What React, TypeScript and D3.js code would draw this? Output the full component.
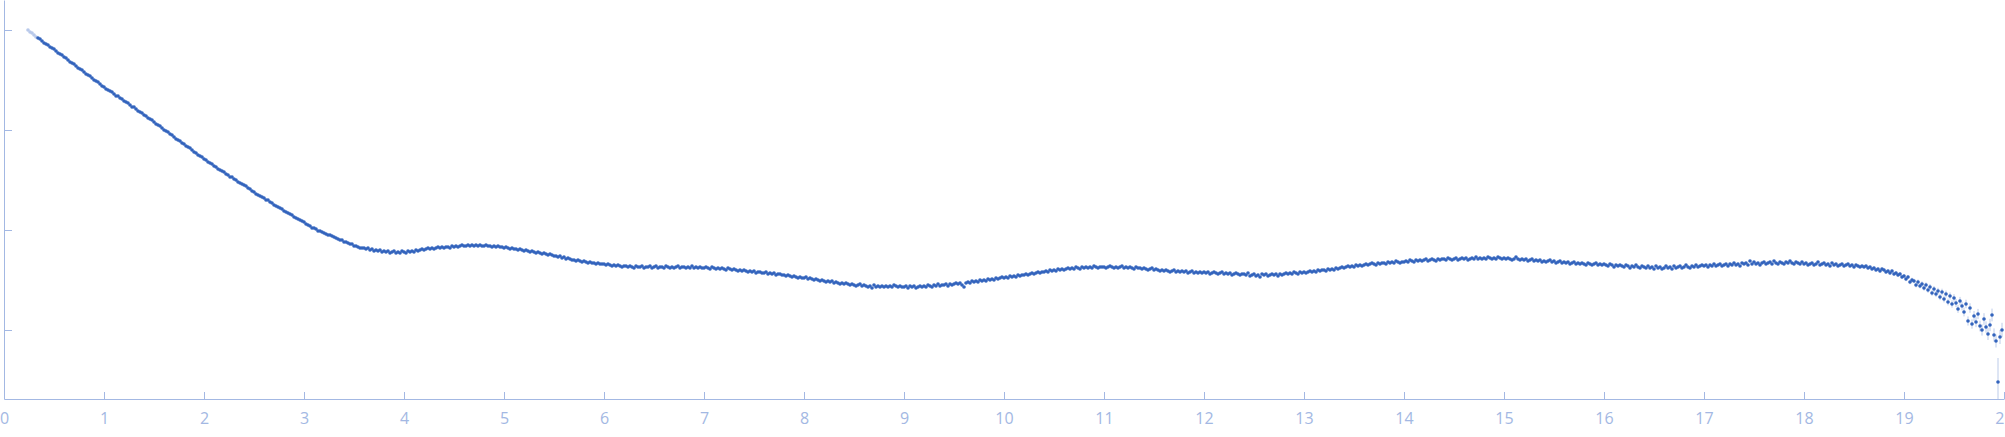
import React, { useRef, useEffect } from 'react';
import * as d3 from 'd3';

// log10 intensity, one value every 0.02 in q
const Q_STEP = 0.02;
const EXCLUDED = 5; // first points drawn pale (not used in the fit)

const seg00 = [0.0, -0.02, -0.03, -0.05, -0.07, -0.08, -0.09, -0.11, -0.13, -0.14, -0.15, -0.17, -0.18, -0.19, -0.21, -0.23, -0.24, -0.25, -0.27, -0.28, -0.3, -0.32, -0.33, -0.34, -0.36, -0.38, -0.39, -0.4, -0.42, -0.44, -0.45, -0.46, -0.48, -0.5, -0.51, -0.52, -0.54, -0.56];
const seg01 = [-0.57, -0.59, -0.6, -0.61, -0.62, -0.64, -0.66, -0.66, -0.68, -0.69, -0.71, -0.72, -0.73, -0.75, -0.77, -0.77, -0.79, -0.81, -0.82, -0.83, -0.85, -0.86, -0.88, -0.89, -0.9, -0.92, -0.94, -0.95, -0.96, -0.98, -1.0, -1.01, -1.02, -1.04, -1.05, -1.07, -1.09, -1.1, -1.11, -1.13, -1.14, -1.16, -1.17, -1.18, -1.2, -1.22, -1.23, -1.25, -1.26, -1.27];
const seg02 = [-1.29, -1.3, -1.32, -1.33, -1.34, -1.36, -1.37, -1.39, -1.4, -1.41, -1.42, -1.44, -1.45, -1.47, -1.47, -1.49, -1.5, -1.52, -1.53, -1.54, -1.55, -1.56, -1.58, -1.59, -1.61, -1.62, -1.64, -1.65, -1.66, -1.67, -1.68, -1.7, -1.7, -1.72, -1.73, -1.75, -1.76, -1.77, -1.78, -1.79, -1.81, -1.82, -1.83, -1.84, -1.85, -1.87, -1.88, -1.89, -1.9, -1.91];
const seg03 = [-1.92, -1.94, -1.95, -1.96, -1.98, -1.98, -1.99, -2.01, -2.01, -2.02, -2.03, -2.04, -2.05, -2.05, -2.06, -2.07, -2.08, -2.09, -2.1, -2.1, -2.12, -2.12, -2.13, -2.14, -2.14, -2.16, -2.16, -2.17, -2.18, -2.18, -2.18, -2.19, -2.18, -2.2, -2.19, -2.21, -2.2, -2.21, -2.2, -2.22, -2.21, -2.22, -2.21, -2.23, -2.22, -2.21, -2.23, -2.22, -2.23, -2.21];
const seg04 = [-2.22, -2.23, -2.21, -2.22, -2.21, -2.22, -2.2, -2.21, -2.2, -2.19, -2.2, -2.19, -2.18, -2.19, -2.18, -2.19, -2.18, -2.17, -2.18, -2.17, -2.18, -2.17, -2.17, -2.18, -2.16, -2.17, -2.16, -2.17, -2.16, -2.15, -2.16, -2.16, -2.15, -2.16, -2.15, -2.16, -2.15, -2.16, -2.15, -2.16, -2.16, -2.15, -2.16, -2.16, -2.17, -2.16, -2.17, -2.16, -2.17, -2.17];
const seg05 = [-2.18, -2.17, -2.18, -2.19, -2.18, -2.19, -2.19, -2.2, -2.19, -2.2, -2.21, -2.2, -2.21, -2.22, -2.21, -2.22, -2.23, -2.22, -2.23, -2.24, -2.23, -2.24, -2.25, -2.24, -2.25, -2.26, -2.26, -2.27, -2.26, -2.28, -2.27, -2.29, -2.28, -2.29, -2.3, -2.3, -2.31, -2.3, -2.31, -2.32, -2.31, -2.32, -2.33, -2.32, -2.33, -2.33, -2.34, -2.33, -2.34, -2.34];
const seg06 = [-2.34, -2.35, -2.34, -2.35, -2.36, -2.35, -2.36, -2.35, -2.36, -2.37, -2.36, -2.36, -2.37, -2.36, -2.37, -2.38, -2.36, -2.37, -2.37, -2.36, -2.38, -2.37, -2.37, -2.36, -2.38, -2.37, -2.36, -2.38, -2.37, -2.37, -2.38, -2.36, -2.37, -2.38, -2.37, -2.38, -2.37, -2.36, -2.38, -2.37, -2.37, -2.38, -2.37, -2.38, -2.36, -2.38, -2.37, -2.38, -2.37, -2.38];
const seg07 = [-2.38, -2.37, -2.38, -2.39, -2.37, -2.38, -2.39, -2.38, -2.39, -2.38, -2.39, -2.4, -2.38, -2.39, -2.4, -2.39, -2.4, -2.41, -2.4, -2.41, -2.4, -2.41, -2.42, -2.41, -2.42, -2.41, -2.43, -2.42, -2.42, -2.43, -2.43, -2.42, -2.44, -2.43, -2.44, -2.43, -2.45, -2.44, -2.44, -2.45, -2.45, -2.46, -2.45, -2.46, -2.47, -2.46, -2.47, -2.48, -2.47, -2.48];
const seg08 = [-2.48, -2.47, -2.49, -2.48, -2.49, -2.5, -2.49, -2.5, -2.51, -2.5, -2.51, -2.52, -2.51, -2.52, -2.51, -2.53, -2.52, -2.53, -2.54, -2.53, -2.54, -2.53, -2.54, -2.55, -2.54, -2.55, -2.56, -2.55, -2.54, -2.56, -2.55, -2.56, -2.57, -2.56, -2.58, -2.55, -2.57, -2.56, -2.57, -2.56, -2.57, -2.56, -2.57, -2.56, -2.57, -2.55, -2.56, -2.57, -2.56, -2.57];
const seg09 = [-2.57, -2.56, -2.58, -2.56, -2.57, -2.56, -2.58, -2.57, -2.56, -2.57, -2.56, -2.57, -2.55, -2.56, -2.57, -2.55, -2.56, -2.54, -2.56, -2.55, -2.55, -2.54, -2.56, -2.54, -2.55, -2.54, -2.53, -2.54, -2.53, -2.55, -2.57, -2.53, -2.52, -2.53, -2.51, -2.52, -2.51, -2.52, -2.5, -2.51, -2.5, -2.51, -2.49, -2.5, -2.49, -2.5, -2.48, -2.49, -2.48, -2.47];
const seg10 = [-2.48, -2.47, -2.48, -2.46, -2.47, -2.46, -2.47, -2.45, -2.46, -2.45, -2.45, -2.44, -2.45, -2.44, -2.43, -2.44, -2.43, -2.42, -2.43, -2.42, -2.42, -2.41, -2.42, -2.4, -2.41, -2.4, -2.41, -2.39, -2.4, -2.39, -2.4, -2.39, -2.38, -2.39, -2.38, -2.39, -2.37, -2.38, -2.39, -2.37, -2.38, -2.37, -2.38, -2.37, -2.38, -2.36, -2.37, -2.38, -2.37, -2.37];
const seg11 = [-2.37, -2.38, -2.37, -2.36, -2.37, -2.38, -2.37, -2.38, -2.37, -2.36, -2.38, -2.37, -2.38, -2.37, -2.38, -2.39, -2.37, -2.38, -2.38, -2.39, -2.38, -2.39, -2.4, -2.39, -2.38, -2.4, -2.39, -2.4, -2.41, -2.4, -2.41, -2.4, -2.41, -2.42, -2.41, -2.4, -2.42, -2.41, -2.42, -2.41, -2.42, -2.41, -2.43, -2.42, -2.41, -2.43, -2.42, -2.43, -2.42, -2.43];
const seg12 = [-2.42, -2.43, -2.42, -2.44, -2.43, -2.42, -2.43, -2.44, -2.43, -2.42, -2.44, -2.43, -2.44, -2.43, -2.45, -2.44, -2.43, -2.44, -2.45, -2.44, -2.44, -2.45, -2.43, -2.46, -2.45, -2.44, -2.46, -2.45, -2.47, -2.44, -2.45, -2.44, -2.46, -2.45, -2.44, -2.45, -2.44, -2.46, -2.44, -2.45, -2.44, -2.43, -2.44, -2.43, -2.44, -2.42, -2.43, -2.44, -2.42, -2.43];
const seg13 = [-2.42, -2.43, -2.42, -2.41, -2.42, -2.41, -2.42, -2.4, -2.41, -2.4, -2.4, -2.41, -2.39, -2.4, -2.39, -2.4, -2.38, -2.39, -2.38, -2.37, -2.38, -2.37, -2.36, -2.37, -2.36, -2.37, -2.35, -2.36, -2.35, -2.36, -2.35, -2.34, -2.35, -2.34, -2.33, -2.34, -2.35, -2.33, -2.34, -2.33, -2.33, -2.34, -2.32, -2.33, -2.32, -2.33, -2.31, -2.32, -2.33, -2.32];
const seg14 = [-2.32, -2.31, -2.32, -2.3, -2.31, -2.32, -2.3, -2.31, -2.3, -2.31, -2.3, -2.29, -2.31, -2.3, -2.29, -2.3, -2.31, -2.29, -2.3, -2.29, -2.29, -2.3, -2.28, -2.29, -2.3, -2.29, -2.28, -2.3, -2.29, -2.28, -2.29, -2.28, -2.3, -2.29, -2.28, -2.29, -2.27, -2.29, -2.28, -2.29, -2.28, -2.29, -2.27, -2.28, -2.29, -2.28, -2.29, -2.27, -2.28, -2.29];
const seg15 = [-2.28, -2.29, -2.28, -2.29, -2.3, -2.29, -2.27, -2.29, -2.3, -2.29, -2.3, -2.29, -2.31, -2.3, -2.29, -2.31, -2.3, -2.31, -2.3, -2.32, -2.31, -2.32, -2.31, -2.3, -2.32, -2.31, -2.33, -2.32, -2.31, -2.33, -2.32, -2.33, -2.32, -2.34, -2.33, -2.32, -2.34, -2.33, -2.34, -2.33, -2.34, -2.35, -2.33, -2.34, -2.35, -2.34, -2.33, -2.35, -2.34, -2.35];
const seg16 = [-2.34, -2.35, -2.36, -2.34, -2.35, -2.37, -2.35, -2.36, -2.35, -2.36, -2.37, -2.35, -2.36, -2.38, -2.36, -2.37, -2.35, -2.37, -2.38, -2.36, -2.37, -2.38, -2.36, -2.38, -2.37, -2.39, -2.36, -2.38, -2.37, -2.39, -2.38, -2.36, -2.38, -2.37, -2.39, -2.36, -2.38, -2.37, -2.36, -2.38, -2.37, -2.35, -2.37, -2.38, -2.36, -2.37, -2.35, -2.37, -2.36, -2.35];
const seg17 = [-2.36, -2.35, -2.37, -2.35, -2.36, -2.34, -2.36, -2.35, -2.34, -2.36, -2.35, -2.34, -2.36, -2.34, -2.35, -2.33, -2.35, -2.34, -2.36, -2.33, -2.34, -2.33, -2.35, -2.31, -2.34, -2.32, -2.34, -2.33, -2.35, -2.33, -2.32, -2.34, -2.33, -2.32, -2.34, -2.31, -2.33, -2.34, -2.32, -2.33, -2.34, -2.32, -2.33, -2.31, -2.33, -2.34, -2.32, -2.33, -2.34, -2.32];
const seg18 = [-2.34, -2.33, -2.35, -2.34, -2.33, -2.35, -2.34, -2.32, -2.35, -2.34, -2.33, -2.35, -2.34, -2.36, -2.33, -2.35, -2.34, -2.36, -2.35, -2.34, -2.36, -2.35, -2.34, -2.36, -2.35, -2.37, -2.35, -2.36, -2.37, -2.36, -2.37, -2.36, -2.38, -2.37, -2.39, -2.38, -2.4, -2.39, -2.41, -2.39, -2.4, -2.42, -2.41, -2.43, -2.41, -2.44, -2.43, -2.45, -2.44, -2.47];
const seg19 = [-2.46, -2.49, -2.47, -2.52, -2.5, -2.51, -2.55, -2.52, -2.56, -2.54, -2.58, -2.55, -2.6, -2.57, -2.63, -2.59, -2.64, -2.61, -2.67, -2.62, -2.69, -2.64, -2.72, -2.66, -2.74, -2.68, -2.73, -2.79, -2.71, -2.76, -2.82, -2.74, -2.91, -2.78, -2.94, -2.86, -2.92, -2.84, -2.96, -3.0, -2.89, -2.97, -3.04, -2.95, -2.85, -3.05, -3.11, -3.52, -3.07, -3.0];

// error bars (log units), only large enough to show at the high-q end
const err18 = [0.006, 0.006, 0.007, 0.006, 0.007, 0.007, 0.006, 0.007, 0.008, 0.007, 0.007, 0.008, 0.007, 0.008, 0.008, 0.009, 0.008, 0.008, 0.009, 0.009, 0.009, 0.01, 0.009, 0.01, 0.01, 0.011, 0.01, 0.011, 0.011, 0.012, 0.012, 0.012, 0.013, 0.012, 0.013, 0.014, 0.013, 0.014, 0.015, 0.014, 0.015, 0.016, 0.015, 0.016, 0.017, 0.017, 0.018, 0.017, 0.019, 0.019];
const err19 = [0.02, 0.021, 0.02, 0.022, 0.023, 0.022, 0.024, 0.025, 0.024, 0.026, 0.027, 0.026, 0.028, 0.029, 0.028, 0.03, 0.031, 0.032, 0.031, 0.033, 0.034, 0.035, 0.034, 0.036, 0.037, 0.038, 0.04, 0.039, 0.041, 0.043, 0.044, 0.043, 0.046, 0.048, 0.047, 0.05, 0.052, 0.051, 0.054, 0.056, 0.058, 0.057, 0.06, 0.062, 0.064, 0.066, 0.065, 0.24, 0.07, 0.072];

const segments: { start: number; values: number[]; errors?: number[] }[] = [
  { start: 0.24, values: seg00 },
  { start: 1, values: seg01 },
  { start: 2, values: seg02 },
  { start: 3, values: seg03 },
  { start: 4, values: seg04 },
  { start: 5, values: seg05 },
  { start: 6, values: seg06 },
  { start: 7, values: seg07 },
  { start: 8, values: seg08 },
  { start: 9, values: seg09 },
  { start: 10, values: seg10 },
  { start: 11, values: seg11 },
  { start: 12, values: seg12 },
  { start: 13, values: seg13 },
  { start: 14, values: seg14 },
  { start: 15, values: seg15 },
  { start: 16, values: seg16 },
  { start: 17, values: seg17 },
  { start: 18, values: seg18, errors: err18 },
  { start: 19, values: seg19, errors: err19 },
];

const xTickValues = [0, 1, 2, 3, 4, 5, 6, 7, 8, 9, 10, 11, 12, 13, 14, 15, 16, 17, 18, 19, 20];
const yTickValues = [-3, -2, -1, 0];

type Pt = { q: number; v: number; err: number; excluded: boolean };
const points: Pt[] = [];
segments.forEach(({ start, values, errors }) => {
  values.forEach((v, j) => {
    points.push({
      q: start + j * Q_STEP,
      v,
      err: errors ? errors[j] : 0,
      excluded: points.length < EXCLUDED,
    });
  });
});

const WIDTH = 2005;
const HEIGHT = 437;
const AXIS_COLOR = '#a3b8e3';
const DOT_COLOR = '#3364bd';
const DOT_PALE = '#b8c9ea';
const ERR_COLOR = '#bccbe9';

export default function App() {
  const ref = useRef<SVGSVGElement>(null);

  const x = d3.scaleLinear().domain([0, 20]).range([4, 2004]);
  const y = d3.scaleLinear().domain([-3.69, 0.3]).range([399, 0]);

  useEffect(() => {
    if (!ref.current) return;
    const svg = d3.select(ref.current);

    const xg = svg.select<SVGGElement>('.x-axis');
    xg.attr('transform', `translate(0,${y.range()[0]})`).call(
      d3.axisBottom(x).tickValues(xTickValues).tickSizeInner(-7).tickSizeOuter(0).tickPadding(14).tickFormat(d3.format('d'))
    );
    xg.attr('font-size', 16).attr('font-family', '"Open Sans", sans-serif');
    xg.selectAll('text').attr('fill', AXIS_COLOR);

    const yg = svg.select<SVGGElement>('.y-axis');
    yg.attr('transform', `translate(${x.range()[0]},0)`).call(
      d3.axisRight(y).tickValues(yTickValues).tickSizeInner(8).tickSizeOuter(0).tickFormat(() => '')
    );

    svg.selectAll('.domain, .tick line').attr('stroke', AXIS_COLOR);
  }, []);

  return (
    <svg
      ref={ref}
      width={WIDTH}
      height={HEIGHT}
      style={{ position: 'absolute', left: 0, top: 0, background: '#fff' }}
    >
      <defs>
        <clipPath id="plot-clip">
          <rect x={0} y={0} width={WIDTH} height={y.range()[0]} />
        </clipPath>
      </defs>
      <g clipPath="url(#plot-clip)">
        {points
          .filter((d) => d.err > 0)
          .map((d, i) => (
            <line
              key={'e' + i}
              x1={x(d.q)}
              x2={x(d.q)}
              y1={y(d.v + d.err)}
              y2={y(d.v - d.err)}
              stroke={ERR_COLOR}
              strokeWidth={1}
            />
          ))}
        {points.map((d, i) => (
          <circle key={i} cx={x(d.q)} cy={y(d.v)} r={1.8} fill={d.excluded ? DOT_PALE : DOT_COLOR} />
        ))}
      </g>
      <g className="x-axis" />
      <g className="y-axis" />
    </svg>
  );
}
